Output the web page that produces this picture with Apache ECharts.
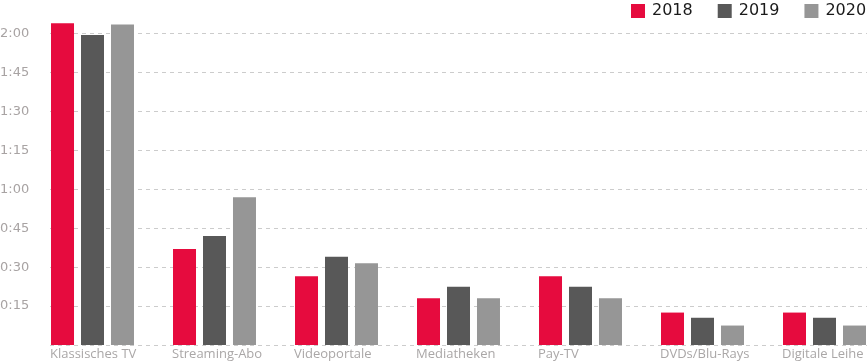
<!DOCTYPE html>
<html>
<head>
<meta charset="utf-8">
<script src="https://cdn.jsdelivr.net/npm/echarts@6/dist/echarts.min.js"></script>
<style>html,body{margin:0;padding:0;background:#fff}#c{width:867px;height:363px}</style>
</head>
<body>
<div id="c"></div>
<script>
var categories = ['Klassisches TV', 'Streaming-Abo', 'Videoportale', 'Mediatheken', 'Pay-TV', 'DVDs/Blu-Rays', 'Digitale Leihe'];
var seriesNames = ['2018', '2019', '2020'];
var values2018 = [124, 37, 26.5, 18, 26.5, 12.5, 12.5];
var values2019 = [119.5, 42, 34, 22.5, 22.5, 10.5, 10.5];
var values2020 = [123.5, 57, 31.5, 18, 18, 7.5, 7.5];
var colors = ['#E60B3E', '#585858', '#969696'];

function fmt(v) {
  var h = Math.floor(v / 60), m = v % 60;
  return h + ':' + (m < 10 ? '0' + m : m);
}

var chart = echarts.init(document.getElementById('c'), null, {renderer: 'canvas'});
var data = [values2018, values2019, values2020];
var series = seriesNames.map(function (n, i) {
  var s = {
    name: n, type: 'bar', data: data[i], xAxisIndex: 0, yAxisIndex: 0,
    barWidth: 23, barGap: '30.4%', itemStyle: {color: colors[i]}, z: 3, clip: false
  };
  if (i === 0) {
    s.label = {
      show: true, position: ['0%', '100%'], offset: [-1, 3],
      align: 'left', verticalAlign: 'top',
      formatter: function (p) { return p.name; },
      color: '#aaa7a7', fontFamily: 'Open Sans', fontSize: 13
    };
  }
  return s;
});

chart.setOption({
  animation: false,
  color: colors,
  legend: {
    data: seriesNames, left: 631, top: 3, width: 240, padding: 0,
    itemWidth: 14, itemHeight: 14, itemGap: 25,
    icon: 'rect',
    textStyle: {fontFamily: 'DejaVu Sans', fontSize: 16, color: '#1a1a1a', padding: [0, 0, 0, 2]}
  },
  grid: [
    {left: 31.5, width: 854, top: 33.7, height: 311.3, outerBoundsMode: 'none', containLabel: false},
    {left: 50, right: 0, top: 33.7, height: 311.3, outerBoundsMode: 'none', containLabel: false}
  ],
  xAxis: [
    {type: 'category', gridIndex: 0, data: categories, axisLine: {show: false}, axisTick: {show: false}, axisLabel: {show: false}},
    {type: 'value', gridIndex: 1, min: 0, max: 1, show: false}
  ],
  yAxis: [
    {
      type: 'value', gridIndex: 0, min: 0, max: 120, interval: 15,
      splitLine: {show: false}, axisLine: {show: false}, axisTick: {show: false},
      axisLabel: {
        align: 'left', margin: 31.5, showMinLabel: false,
        formatter: fmt, color: '#a8a3a3', fontFamily: 'DejaVu Sans', fontSize: 13
      }
    },
    {
      type: 'value', gridIndex: 1, min: 0, max: 120, interval: 15,
      axisLine: {show: false}, axisTick: {show: false}, axisLabel: {show: false},
      splitLine: {show: true, lineStyle: {color: '#cccccc', type: [4, 4], width: 1}}
    }
  ],
  series: series
});
</script>
</body>
</html>
